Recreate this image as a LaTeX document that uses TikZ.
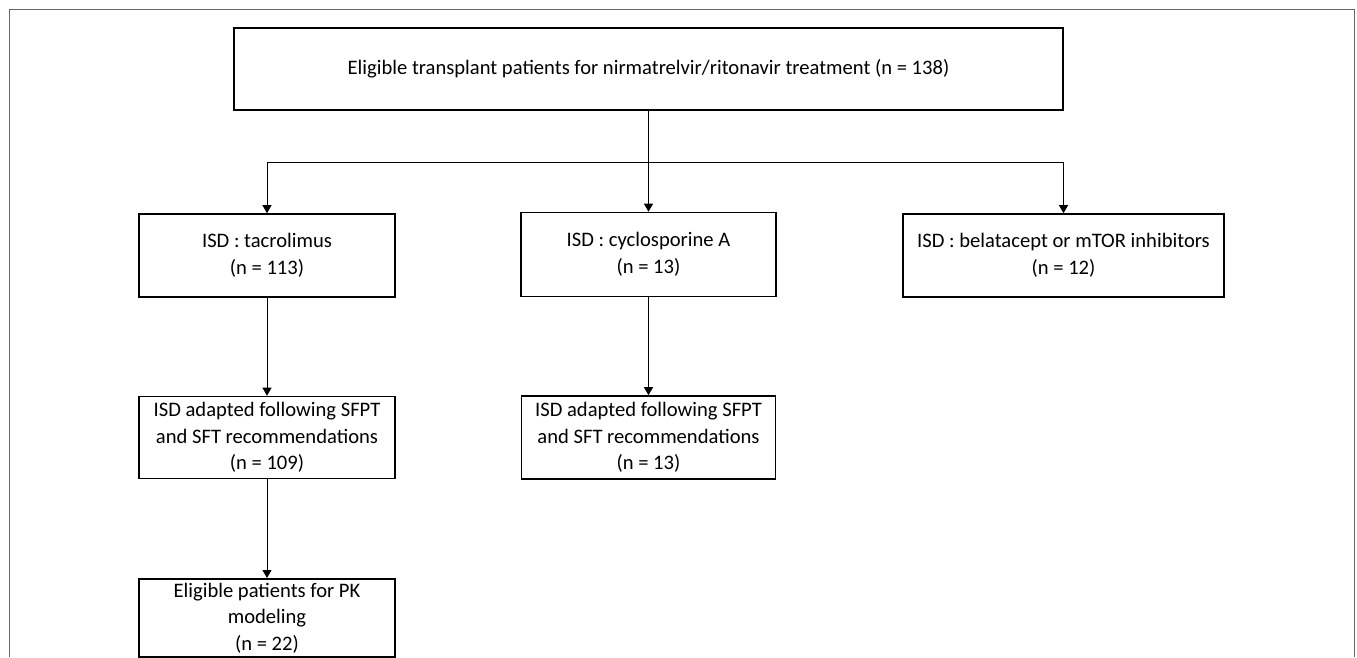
\documentclass[tikz,border=0pt]{standalone}
\usepackage{fontspec}
\setmainfont{Carlito}
\usetikzlibrary{arrows.meta}

\begin{document}
\begin{tikzpicture}[x=1pt,y=-1pt,
    box/.style={draw,line width=1.6pt,align=center,inner sep=2pt,font=\fontsize{20.6}{26.5}\selectfont},
    arr/.style={-{Triangle[length=8pt,width=9pt]},line width=0.9pt}]
    \useasboundingbox (0,0) rectangle (1357,657);
    \draw[line width=1.5pt,black!60] (9.5,657) -- (9.5,9.5) -- (1354.5,9.5) -- (1354.5,657);

    \node[box,minimum width=829pt,minimum height=82pt] (elig) at (648.5,69) {Eligible transplant patients for nirmatrelvir/ritonavir treatment (n = 138)};

    \node[box,minimum width=256pt,minimum height=83pt] (tac) at (267,255.5) {ISD : tacrolimus\\(n = 113)};
    \node[box,minimum width=255pt,minimum height=84pt] (cyc) at (648.5,254.5) {ISD : cyclosporine A\\(n = 13)};
    \node[box,minimum width=321pt,minimum height=83pt] (bel) at (1063.5,255.5) {ISD : belatacept or mTOR inhibitors\\(n = 12)};

    \node[box,minimum width=256pt,minimum height=82pt] (tacadapt) at (267,437.5) {ISD adapted following SFPT\\and SFT recommendations\\(n = 109)};
    \node[box,minimum width=254pt,minimum height=83pt] (cycadapt) at (648.5,437.5) {ISD adapted following SFPT\\and SFT recommendations\\(n = 13)};

    \node[box,anchor=north,minimum width=256pt,inner ysep=4pt] (pk) at (267,578) {Eligible patients for PK\\modeling\\(n = 22)};

    \coordinate (split) at (648.5,162);
    \draw[line width=0.9pt] (elig.south) -- (split);
    \draw[arr] (split) -| (tac.north);
    \draw[arr] (split) -- (cyc.north);
    \draw[arr] (split) -| (bel.north);
    \draw[arr] (tac.south) -- (tacadapt.north);
    \draw[arr] (cyc.south) -- (cycadapt.north);
    \draw[arr] (tacadapt.south) -- (pk.north);
\end{tikzpicture}
\end{document}
